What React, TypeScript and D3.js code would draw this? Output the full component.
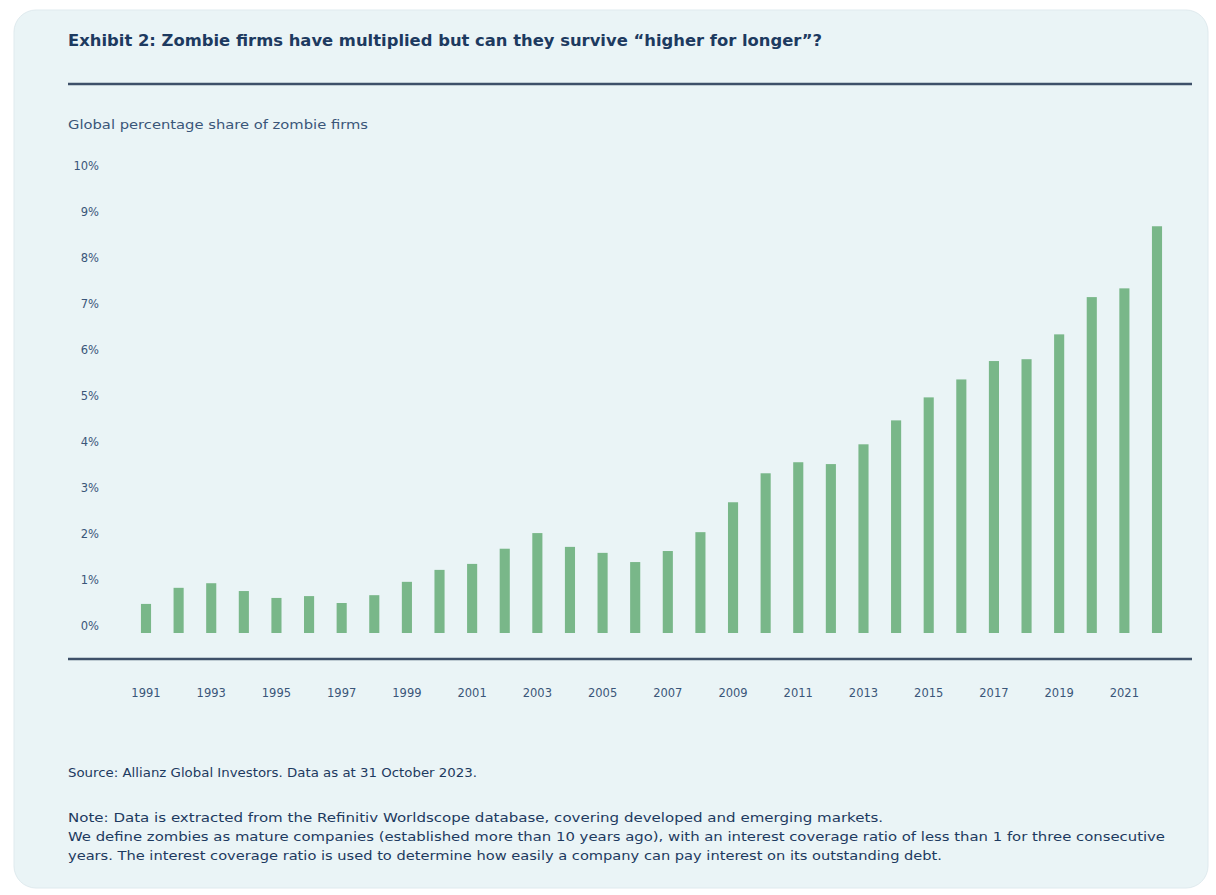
import React from "react";
import * as d3 from "d3";

const years: number[] = [
  1991, 1992, 1993, 1994, 1995, 1996, 1997, 1998, 1999, 2000, 2001, 2002, 2003, 2004, 2005, 2006,
  2007, 2008, 2009, 2010, 2011, 2012, 2013, 2014, 2015, 2016, 2017, 2018, 2019, 2020, 2021, 2022,
];
const zombieShare: number[] = [
  0.48, 0.83, 0.93, 0.76, 0.61, 0.65, 0.5, 0.67, 0.96, 1.22, 1.35, 1.68, 2.02, 1.72, 1.59, 1.39,
  1.63, 2.04, 2.69, 3.32, 3.56, 3.52, 3.95, 4.47, 4.97, 5.36, 5.76, 5.8, 6.34, 7.15, 7.34, 8.69,
];
const yTicks: number[] = [0, 1, 2, 3, 4, 5, 6, 7, 8, 9, 10];
const xTickYears: number[] = years.filter((y) => y % 2 === 1);

const title = "Exhibit 2: Zombie firms have multiplied but can they survive \u201Chigher for longer\u201D?";
const subtitle = "Global percentage share of zombie firms";
const source = "Source: Allianz Global Investors. Data as at 31 October 2023.";
const notes: string[] = [
  "Note: Data is extracted from the Refinitiv Worldscope database, covering developed and emerging markets.",
  "We define zombies as mature companies (established more than 10 years ago), with an interest coverage ratio of less than 1 for three consecutive",
  "years. The interest coverage ratio is used to determine how easily a company can pay interest on its outstanding debt.",
];
const noteWidths: number[] = [815, 1097, 874];

const W = 1216;
const H = 895;
const FONT = "'DejaVu Sans', Verdana, sans-serif";
const NAVY = "#1d3a60";
const AXIS_TEXT = "#3a5679";
const BAR = "#79b789";
const RULE = "#3e5069";

export default function App() {
  const x = d3.scalePoint<number>().domain(years).range([146, 1157]);
  const y = d3.scaleLinear().domain([0, 10]).range([626, 166]);
  const barW = x.step() * 0.31;
  const baseline = y(0) + 7;

  return (
    <div style={{ position: "absolute", left: 0, top: 0 }}>
      <svg width={W} height={H} style={{ display: "block" }} fontFamily={FONT}>
        <rect x={0} y={0} width={W} height={H} fill="#ffffff" />
        <rect x={14} y={10} width={1194} height={878} rx={22} fill="#eaf4f6" stroke="#dfeaee" />
        <text x={68} y={46} fontSize={15.5} fontWeight={700} fill={NAVY} textLength={754} lengthAdjust="spacingAndGlyphs">
          {title}
        </text>
        <line x1={68} x2={1192} y1={84} y2={84} stroke={RULE} strokeWidth={2.5} />
        <text x={68} y={129} fontSize={11.5} fill={AXIS_TEXT} textLength={300} lengthAdjust="spacingAndGlyphs">
          {subtitle}
        </text>

        {yTicks.map((t) => (
          <text key={t} x={99} y={y(t)} dy="0.35em" textAnchor="end" fontSize={11.5} fill={AXIS_TEXT}>
            {t}%
          </text>
        ))}

        {years.map((yr, i) => (
          <rect
            key={yr}
            x={(x(yr) as number) - barW / 2}
            y={y(zombieShare[i])}
            width={barW}
            height={baseline - y(zombieShare[i])}
            fill={BAR}
          />
        ))}

        <line x1={68} x2={1192} y1={659} y2={659} stroke={RULE} strokeWidth={2.5} />

        {xTickYears.map((yr) => (
          <text key={yr} x={x(yr) as number} y={693} dy="0.35em" textAnchor="middle" fontSize={11.5} fill={AXIS_TEXT}>
            {yr}
          </text>
        ))}

        <text x={68} y={777} fontSize={12} fill={NAVY} textLength={409} lengthAdjust="spacingAndGlyphs">
          {source}
        </text>
        {notes.map((n, i) => (
          <text key={i} x={68} y={822 + i * 19} fontSize={12} fill={NAVY} textLength={noteWidths[i]} lengthAdjust="spacingAndGlyphs">
            {n}
          </text>
        ))}
      </svg>
    </div>
  );
}
